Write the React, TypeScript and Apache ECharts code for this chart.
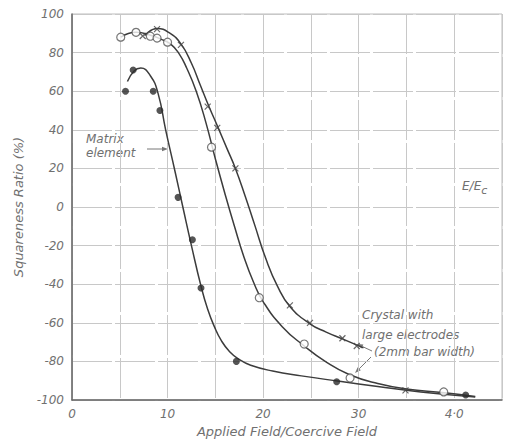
import React, { useEffect, useRef } from "react";
import * as echarts from "echarts";

// ---- data ----
const yTicks = [-100, -80, -60, -40, -20, 0, 20, 40, 60, 80, 100];
const xTickValues = [0, 10, 20, 30, 40];
const xTickLabels = ["0", "10", "20", "30", "4·0"];

// Matrix element (filled dots)
const matrixPoints: [number, number][] = [
  [5.6, 60], [6.4, 71], [8.5, 60], [9.2, 50], [11.1, 5], [12.6, -17],
  [13.5, -42], [17.2, -80], [27.7, -90.5], [41.2, -97.4],
];
const matrixCurve: [number, number][] = [
  [5.8, 65], [6.5, 70.5], [7.2, 72], [8.2, 68], [9.0, 59], [9.8, 40],
  [10.8, 18], [11.6, 0], [12.5, -20], [13.5, -41], [14.2, -53], [14.9, -62],
  [15.6, -69], [16.5, -75], [17.5, -79], [18.7, -82], [21, -85],
  [24, -87.5], [28, -90.3], [32, -93], [36.5, -95.8], [42.2, -98.4],
];

// Crystal, open circles
const circlePoints: [number, number][] = [
  [5.1, 88], [6.7, 90.5], [8.2, 88.5], [8.9, 87.5], [10.0, 85.4],
  [14.6, 31], [19.6, -47], [24.3, -71], [29.1, -88.6], [38.9, -95.8],
];
const circleCurve: [number, number][] = [
  [5.1, 88], [6.7, 90.5], [8.2, 89], [9.3, 87], [10.3, 84.5], [11.2, 79.5],
  [12, 72], [13, 60], [14, 44], [15, 25], [16, 7], [17, -10], [18, -26],
  [19, -39], [20, -49], [22, -62], [24.3, -72], [26.5, -80], [29, -86.8],
  [32, -91.5], [35, -94.3], [39, -96.2], [42.2, -98.2],
];

// Crystal, crosses
const crossPoints: [number, number][] = [
  [7.4, 88.6], [8.9, 92.2], [11.4, 84], [14.2, 52], [15.2, 41], [17.1, 20],
  [22.8, -51], [24.9, -60], [28.3, -68], [29.8, -72], [34.9, -95],
];
const crossCurve: [number, number][] = [
  [7.6, 88.8], [8.9, 92.5], [10.2, 90.2], [11.4, 84.5], [12.5, 74.5],
  [13.4, 63.5], [14.3, 52.5], [15.3, 41], [16.2, 30.5], [17.1, 20],
  [18.1, 6], [19.1, -9], [20.3, -27], [21.5, -41], [22.8, -51.5],
  [24.9, -60.5], [26.6, -64.8], [28.3, -68.3], [30.5, -73],
];

const INK = "#3c3c3c";
const TEXT = "#707070";
const FONT = "DejaVu Sans";

function arrow(x1: number, y1: number, x2: number, y2: number) {
  const ang = Math.atan2(y2 - y1, x2 - x1);
  const L = 6, W = 2.2;
  const bx = x2 - L * Math.cos(ang), by = y2 - L * Math.sin(ang);
  const px = -Math.sin(ang) * W, py = Math.cos(ang) * W;
  return [
    { type: "line", shape: { x1, y1, x2: bx, y2: by }, style: { stroke: "#777", lineWidth: 1 }, silent: true },
    {
      type: "polygon",
      shape: { points: [[x2, y2], [bx + px, by + py], [bx - px, by - py]] },
      style: { fill: "#777" },
      silent: true,
    },
  ];
}

export default function App() {
  const ref = useRef<HTMLDivElement>(null);
  useEffect(() => {
    if (!ref.current) return;
    const chart = echarts.init(ref.current, undefined, { renderer: "svg" });
    const lbl = (v: number) => {
      const i = xTickValues.indexOf(v);
      return i >= 0 ? xTickLabels[i] : "";
    };
    const curve = (data: [number, number][]) => ({
      type: "line",
      data,
      smooth: 0.5,
      showSymbol: false,
      lineStyle: { color: INK, width: 1.5 },
      silent: true,
      z: 2,
    });
    chart.setOption({
      animation: false,
      backgroundColor: "#fff",
      grid: {
        left: 72, right: 5, top: 14, bottom: 43,
        show: true, borderColor: "#bdbdbd", borderWidth: 1,
      },
      xAxis: {
        type: "value",
        min: 0, max: 45, interval: 5,
        name: "Applied Field/Coercive Field",
        nameLocation: "middle",
        nameGap: 25,
        nameTextStyle: { color: TEXT, fontStyle: "italic", fontFamily: FONT, fontSize: 13 },
        axisLine: { onZero: false, lineStyle: { color: "#666", width: 1.5 } },
        axisTick: { show: false },
        axisLabel: {
          formatter: lbl, color: TEXT, fontStyle: "italic", fontFamily: FONT,
          fontSize: 12, margin: 8, showMaxLabel: false,
        },
        splitLine: { show: true, lineStyle: { color: "#c8c8c8", width: 1, type: [40, 3] } },
      },
      yAxis: {
        type: "value",
        min: yTicks[0], max: yTicks[yTicks.length - 1], interval: 20,
        name: "Squareness Ratio (%)",
        nameLocation: "middle",
        nameGap: 47,
        nameTextStyle: { color: TEXT, fontStyle: "italic", fontFamily: FONT, fontSize: 13 },
        axisLine: { show: true, onZero: false, lineStyle: { color: "#666", width: 1.5 } },
        axisTick: { show: false },
        axisLabel: { color: TEXT, fontStyle: "italic", fontFamily: FONT, fontSize: 12, margin: 8 },
        splitLine: { show: true, lineStyle: { color: "#c8c8c8", width: 1, type: [40, 3] } },
      },
      series: [
        curve(matrixCurve),
        curve(circleCurve),
        curve(crossCurve),
        {
          type: "scatter", data: matrixPoints, symbol: "circle", symbolSize: 7,
          itemStyle: { color: "#2a2a2a" }, z: 3, silent: true,
        },
        {
          type: "scatter", data: circlePoints, symbol: "circle", symbolSize: 8,
          itemStyle: { color: "#fff", borderColor: "#555", borderWidth: 1.2 }, z: 3, silent: true,
        },
        {
          type: "scatter", data: crossPoints, symbol: "path://M0,0L10,10M10,0L0,10", symbolSize: 6,
          itemStyle: { color: "none", borderColor: "#444", borderWidth: 1.2 }, z: 3, silent: true,
        },
      ],
      graphic: [
        {
          type: "text", left: 86, top: 132,
          style: { text: "Matrix\nelement", fill: TEXT, font: `italic 12px "${FONT}"`, lineHeight: 14 },
        },
        ...arrow(147, 149, 168, 149),
        {
          type: "text", left: 362, top: 305,
          style: {
            text: "Crystal with\nlarge electrodes",
            fill: TEXT, font: `italic 12px "${FONT}"`, lineHeight: 20,
          },
        },
        {
          type: "text", left: 374, top: 346,
          style: { text: "(2mm bar width)", fill: TEXT, font: `italic 12px "${FONT}"` },
        },
        ...arrow(372, 351, 357, 344),
        ...arrow(371, 357, 355, 373),
        {
          type: "text", left: 462, top: 180,
          style: {
            text: "{e|E/E}{s|c}",
            rich: {
              e: { fill: TEXT, font: `italic 12px "${FONT}"` },
              s: { fill: TEXT, font: `italic 11px "${FONT}"`, padding: [8, 0, 0, 0] },
            },
          },
        },
      ],
    });
    return () => chart.dispose();
  }, []);
  return (
    <div
      ref={ref}
      style={{ position: "fixed", left: 0, top: 0, width: 507, height: 443 }}
    />
  );
}
